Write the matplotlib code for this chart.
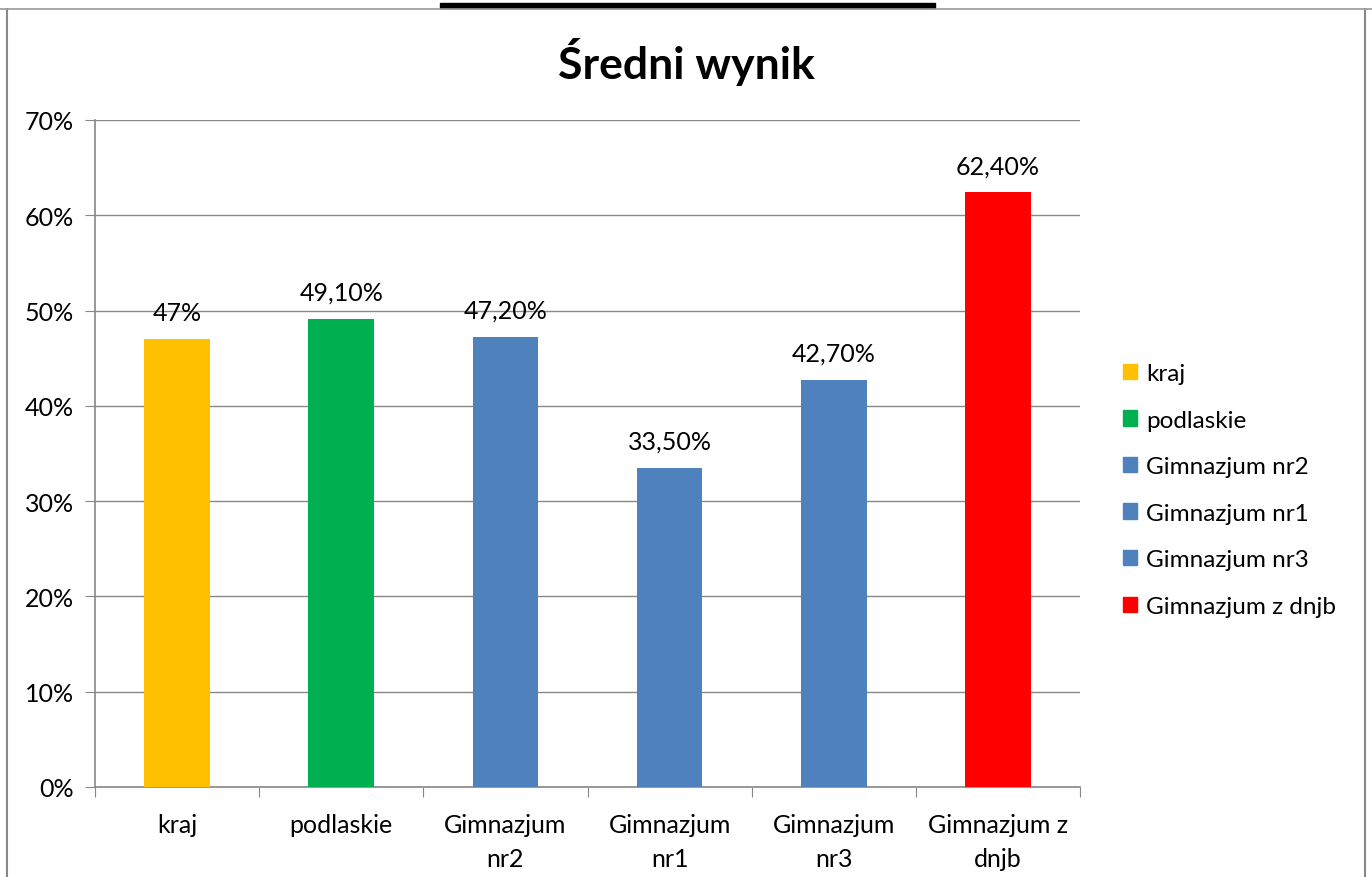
import matplotlib.pyplot as plt
from matplotlib.patches import Rectangle
from matplotlib.lines import Line2D
from matplotlib.ticker import FuncFormatter

categories = ["kraj", "podlaskie", "Gimnazjum nr2", "Gimnazjum nr1", "Gimnazjum nr3", "Gimnazjum z dnjb"]
tick_labels = ["kraj", "podlaskie", "Gimnazjum\nnr2", "Gimnazjum\nnr1", "Gimnazjum\nnr3", "Gimnazjum z\ndnjb"]
values = [47.0, 49.1, 47.2, 33.5, 42.7, 62.4]
value_labels = ["47%", "49,10%", "47,20%", "33,50%", "42,70%", "62,40%"]
colors = ["#FFC000", "#00B050", "#4F81BD", "#4F81BD", "#4F81BD", "#FF0000"]

plt.rcParams["font.family"] = ["Lato", "DejaVu Sans"]
FS = 18

fig = plt.figure(figsize=(13.72, 8.78), dpi=100)
W, H = 1372, 878
ax = fig.add_axes([95 / W, 1 - 788 / H, (1080 - 95) / W, (788 - 121) / H])

x = list(range(len(categories)))
ax.bar(x, values, width=0.4, color=colors, zorder=3)
for xi, v, lab in zip(x, values, value_labels):
    ax.text(xi, v + 1.6, lab, ha="center", va="bottom", fontsize=FS)

ax.set_xlim(-0.5, len(categories) - 0.5)
ax.set_ylim(0, 70)
ax.set_yticks(range(0, 71, 10))
ax.yaxis.set_major_formatter(FuncFormatter(lambda v, p: f"{v:.0f}%"))
ax.set_xticks([i + 0.5 for i in range(-1, len(categories))])
ax.set_xticks(x, minor=True)
ax.set_xticklabels([""] * (len(categories) + 1))
ax.set_xticklabels(tick_labels, minor=True, linespacing=1.55)
ax.tick_params(axis="x", which="minor", length=0, pad=19, labelsize=FS)
ax.tick_params(axis="x", which="major", length=7, color="#888888", direction="out")
ax.tick_params(axis="y", length=7, color="#888888", labelsize=FS, pad=8)
ax.grid(axis="y", color="#888888", linewidth=1, zorder=0)
for s in ["top", "right"]:
    ax.spines[s].set_visible(False)
for s in ["left", "bottom"]:
    ax.spines[s].set_color("#888888")
    ax.spines[s].set_linewidth(1.2)

fig.text(0.5, 1 - 62 / H, "Średni wynik", ha="center", va="center", fontsize=32, fontweight="bold")

handles = [Rectangle((0, 0), 1, 1, color=c) for c in colors]
fig.legend(handles, categories, loc="center left", bbox_to_anchor=(1101 / W, 1 - 491 / H),
           frameon=False, fontsize=17.5, handlelength=0.6, handleheight=0.6,
           handletextpad=0.35, labelspacing=1.05)

# outer chart frame and cut-off bar at top
fig.add_artist(Line2D([7 / W, 7 / W], [0, 1 - 10 / H], color="#888888", lw=1.5))
fig.add_artist(Line2D([1365 / W, 1365 / W], [0, 1 - 10 / H], color="#888888", lw=1.5))
fig.add_artist(Line2D([0, 1], [1 - 10 / H, 1 - 10 / H], color="#999999", lw=1.2))
fig.add_artist(Rectangle((440 / W, 1 - 9 / H), (935 - 440) / W, 5 / H, color="black"))

fig.savefig("out.png", dpi=100)
